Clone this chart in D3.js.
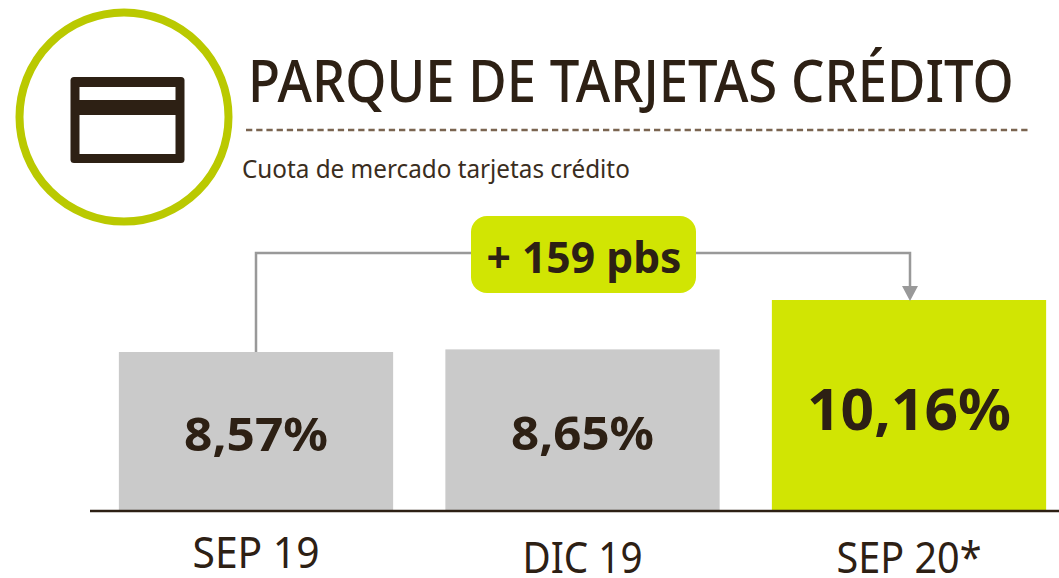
<!DOCTYPE html>
<html><head><meta charset="utf-8">
<script src="https://cdn.jsdelivr.net/npm/d3@7"></script>
<style>html,body{margin:0;padding:0;background:#fff}svg{display:block}text{font-family:"Noto Sans",sans-serif;fill:#2d2014}</style>
</head><body><svg id="c" width="1059" height="578"></svg>
<script>
const categories=["SEP 19","DIC 19","SEP 20*"];
const values=[8.57,8.65,10.16];
const valueLabels=["8,57%","8,65%","10,16%"];
const barColors=["#cacaca","#cacaca","#d1e503"];
const titleText="PARQUE DE TARJETAS CRÉDITO";
const subtitleText="Cuota de mercado tarjetas crédito";
const deltaLabel="+ 159 pbs";
const ink="#2d2014",arrow="#999999";
const svg=d3.select("#c");
const x=d3.scaleBand().domain(categories).range([92.75,1072.25]).paddingInner(0.16).paddingOuter(0.08);
const y=d3.scaleLinear().domain([3.74,10.16]).range([510,300]);

// squeeze a text horizontally to a target width, keeping its height
function squeeze(node,px,py,w){
  const s=w/node.getComputedTextLength();
  d3.select(node).attr("x",0).attr("y",0).attr("dy",0).attr("transform",`translate(${px},${py}) scale(${s},1)`);
}

// badge + icon
svg.append("circle").attr("cx",124).attr("cy",117).attr("r",104.5).attr("fill","none").attr("stroke","#bac900").attr("stroke-width",8);
svg.append("rect").attr("x",70.5).attr("y",77).attr("width",114).attr("height",86).attr("rx",3.5).attr("fill",ink);
svg.append("rect").attr("x",79.5).attr("y",87).attr("width",96).attr("height",13).attr("fill","#fff");
svg.append("rect").attr("x",79.5).attr("y",115).attr("width",96).attr("height",39).attr("fill","#fff");

// title
squeeze(svg.append("text").attr("font-size",58).attr("font-weight",500).text(titleText).node(),248,102,766);
svg.append("line").attr("x1",246).attr("x2",1030).attr("y1",130).attr("y2",130).attr("stroke","#7a6450").attr("stroke-width",2.5).attr("stroke-dasharray","6.3 3.9");
squeeze(svg.append("text").attr("font-size",26).style("fill","#3a2d20").text(subtitleText).node(),242,178,388);

// bars
svg.selectAll("rect.bar").data(values).join("rect").attr("class","bar")
 .attr("x",(d,i)=>x(categories[i])).attr("width",x.bandwidth())
 .attr("y",d=>y(d)).attr("height",d=>y.range()[0]-y(d)).attr("fill",(d,i)=>barColors[i]);

// connector
const bx1=x(categories[0])+x.bandwidth()/2, ly=253, ax=910;
svg.append("path").attr("d",`M${bx1},${y(values[0])}V${ly}H${ax}V287`).attr("fill","none").attr("stroke",arrow).attr("stroke-width",2.5);
svg.append("path").attr("d",`M${ax-8},286H${ax+8}L${ax},${y(values[2])+1}Z`).attr("fill",arrow);
svg.append("rect").attr("x",471).attr("y",216).attr("width",225).attr("height",77).attr("rx",16).attr("fill","#d1e503");
squeeze(svg.append("text").attr("text-anchor","middle").attr("font-size",43).attr("font-weight",700).text(deltaLabel).node(),584,273,195);

// value labels
const vSize=[47,47,58], vY=[451,449.5,430], vLen=[144,143,204];
svg.selectAll("text.val").data(values).join("text").attr("class","val")
 .attr("text-anchor","middle").attr("font-weight",700).attr("font-size",(d,i)=>vSize[i])
 .text((d,i)=>valueLabels[i])
 .each(function(d,i){squeeze(this,x(categories[i])+x.bandwidth()/2,vY[i],vLen[i]);});

// axis
const ax0=svg.append("g").attr("transform","translate(0,511)").call(d3.axisBottom(x).tickSize(0).tickPadding(0));
ax0.select(".domain").remove();
svg.append("line").attr("x1",90).attr("x2",1059).attr("y1",511).attr("y2",511).attr("stroke",ink).attr("stroke-width",2.5);
const lY=[57,61.5,61.5], lLen=[127,120,145];
ax0.selectAll(".tick text").attr("font-size",43).attr("font-family",'"Noto Sans",sans-serif').style("fill",ink)
 .each(function(d,i){squeeze(this,0,lY[i],lLen[i]);});
</script></body></html>
